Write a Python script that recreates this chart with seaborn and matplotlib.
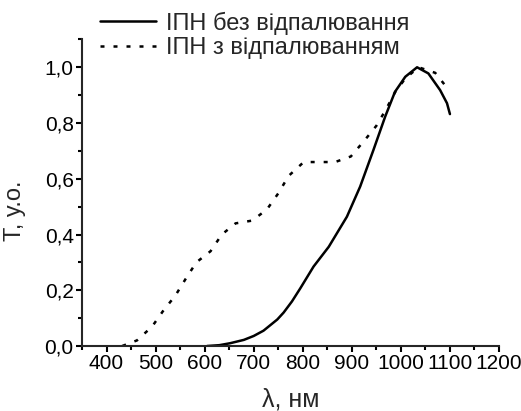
import numpy as np
import pandas as pd
import matplotlib
matplotlib.use("Agg")
import matplotlib.pyplot as plt
import seaborn as sns
from matplotlib.ticker import MultipleLocator, FuncFormatter

# Data
wl_plain = [605, 630, 652, 680, 700, 720, 734, 748, 761, 778, 795, 822, 853, 890, 917, 944, 968, 988, 1009, 1033, 1056, 1080, 1094, 1100]
t_plain = [0.0, 0.003, 0.01, 0.022, 0.036, 0.055, 0.075, 0.095, 0.12, 0.16, 0.207, 0.285, 0.356, 0.464, 0.572, 0.703, 0.823, 0.912, 0.966, 1.0, 0.978, 0.918, 0.871, 0.832]

wl_annealed = [432, 462, 493, 517, 540, 561, 583, 612, 635, 663, 697, 727, 751, 771, 802, 832, 866, 898, 927, 950, 970, 988, 1009, 1036, 1070, 1097]
t_annealed = [0.0, 0.02, 0.07, 0.13, 0.18, 0.24, 0.30, 0.34, 0.40, 0.44, 0.45, 0.49, 0.55, 0.61, 0.66, 0.66, 0.66, 0.68, 0.74, 0.79, 0.85, 0.91, 0.96, 1.00, 0.98, 0.92]

label_plain = "ІПН без відпалювання"
label_annealed = "ІПН з відпалюванням"
x_label = "λ, нм"
y_label = "T, у.о."

sns.set_style("ticks")
plt.rcParams['font.family'] = ['Liberation Sans', 'DejaVu Sans']

fig = plt.figure(figsize=(5.21, 4.11), dpi=100)
ax = fig.add_axes([82/521, 65/411, (499-82)/521, (346-39.4)/411])

df1 = pd.DataFrame({"x": wl_plain, "y": t_plain})
df2 = pd.DataFrame({"x": wl_annealed, "y": t_annealed})
sns.lineplot(data=df1, x="x", y="y", ax=ax, color="black", linewidth=1.8,
             label=label_plain)
sns.lineplot(data=df2, x="x", y="y", ax=ax, color="black", linewidth=1.8,
             linestyle=(0, (1.6, 3.6)), label=label_annealed)

ax.set_xlim(350, 1200)
ax.set_ylim(0, 1.1)
ax.xaxis.set_major_locator(MultipleLocator(100))
ax.xaxis.set_minor_locator(MultipleLocator(50))
ax.yaxis.set_major_locator(MultipleLocator(0.2))
ax.yaxis.set_minor_locator(MultipleLocator(0.1))
ax.yaxis.set_major_formatter(FuncFormatter(lambda v, p: f"{v:.1f}".replace(".", ",")))
ax.set_xticks([400, 500, 600, 700, 800, 900, 1000, 1100, 1200])

for s in ["top", "right"]:
    ax.spines[s].set_visible(False)
for s in ["left", "bottom"]:
    ax.spines[s].set_linewidth(1.5)

ax.tick_params(which="major", direction="out", length=4, width=1.5, labelsize=15, pad=2, color="black", labelcolor="black")
ax.tick_params(which="minor", direction="out", length=3, width=1.5, color="black")

ax.set_xlabel(x_label, fontsize=18)
ax.set_ylabel(y_label, fontsize=17)
ax.xaxis.set_label_coords(0.5, -0.135)
ax.yaxis.set_label_coords(-0.134, 0.44)

leg = ax.legend(loc="upper left", bbox_to_anchor=(91/521, 1 - 2/411), bbox_transform=fig.transFigure,
                frameon=False, fontsize=17, handlelength=2.35, handletextpad=0.42,
                borderaxespad=0, labelspacing=0.1)

fig.savefig("out.png", dpi=100)
